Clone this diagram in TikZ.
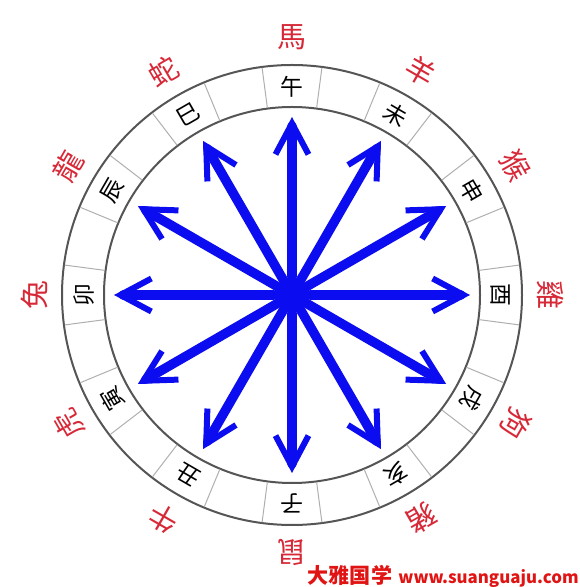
\documentclass[tikz,border=0pt]{standalone}
\usepackage{fontspec}
\usepackage{xcolor}
\usetikzlibrary{arrows.meta}
\newfontfamily\cjk{Noto Sans CJK TC}
\newfontfamily\cjksc{Noto Sans CJK SC}
\definecolor{arrowblue}{RGB}{12,12,240}
\definecolor{animalred}{RGB}{215,40,55}
\definecolor{markred}{RGB}{225,20,20}
\definecolor{ringgray}{RGB}{85,85,85}
\definecolor{cellgray}{RGB}{175,175,175}
\tikzset{
  branch/.style={font=\cjk\fontsize{13}{13}\selectfont,text=black,inner sep=0pt},
  animal/.style={font=\cjk\fontsize{16.5}{16.5}\selectfont,text=animalred,inner sep=0pt},
  ray/.style={line width=0.19cm,color=arrowblue,-{Straight Barb[length=0.62cm,width=0.66cm,line width=0.12cm]}}
}

\begin{document}
\begin{tikzpicture}[line cap=round,line join=round,x=0.02cm,y=0.02cm]
                \useasboundingbox (-292,-292) rectangle (288,295);
                % ring of twelve branches
                \draw [line width=0.04cm,color=ringgray] (0,0) circle (230);
                \draw [line width=0.04cm,color=ringgray] (0,0) circle (188);
                \foreach \a in {7.5,22.5,...,352.5}
                    \draw [line width=0.02cm,color=cellgray] (\a:189) -- (\a:229);
                \node [branch] (wu) at (90:208) {午};
                \node [branch,rotate=-30] (wei) at (60:208) {未};
                \node [branch,rotate=-60] (shen) at (30:208) {申};
                \node [branch,rotate=-90] (you) at (0:208) {酉};
                \node [branch,rotate=-120] (xu) at (-30:208) {戌};
                \node [branch,rotate=-150] (hai) at (-60:208) {亥};
                \node [branch,rotate=180] (zi) at (-90:208) {子};
                \node [branch,rotate=150] (chou) at (-120:208) {丑};
                \node [branch,rotate=120] (yin) at (-150:208) {寅};
                \node [branch,rotate=90] (mao) at (180:208) {卯};
                \node [branch,rotate=60] (chen) at (150:208) {辰};
                \node [branch,rotate=30] (si) at (120:208) {巳};
                % animals outside
                \node [animal] (horse) at (90:258) {馬};
                \node [animal,rotate=-30] (goat) at (60:258) {羊};
                \node [animal,rotate=-60] (monkey) at (30:258) {猴};
                \node [animal,rotate=-90] (rooster) at (0:258) {雞};
                \node [animal,rotate=-120] (dog) at (-30:258) {狗};
                \node [animal,rotate=-150] (pig) at (-60:258) {豬};
                \node [animal,rotate=180] (rat) at (-90:258) {鼠};
                \node [animal,rotate=150] (ox) at (-120:258) {牛};
                \node [animal,rotate=120] (tiger) at (-150:258) {虎};
                \node [animal,rotate=90] (rabbit) at (180:258) {兔};
                \node [animal,rotate=60] (dragon) at (150:258) {龍};
                \node [animal,rotate=30] (snake) at (120:258) {蛇};
                % arrows from the hub
                \node [circle,fill=arrowblue,minimum size=0.72cm,inner sep=0pt] (hub) at (0,0) {};
                \foreach \a [count=\i] in {90,60,...,-240} {
                    \coordinate (tip\i) at (\a:178);
                    \draw [ray] (hub) -- (tip\i);
                }
                \node [font=\cjksc\bfseries\fontsize{12}{12}\selectfont,text=markred,anchor=east,inner sep=0pt] (mark) at (287,-281) {大雅国学\hspace{0.3em}{\fontsize{9.6}{9.6}\selectfont www.suanguaju.com}};
\end{tikzpicture}
\end{document}
